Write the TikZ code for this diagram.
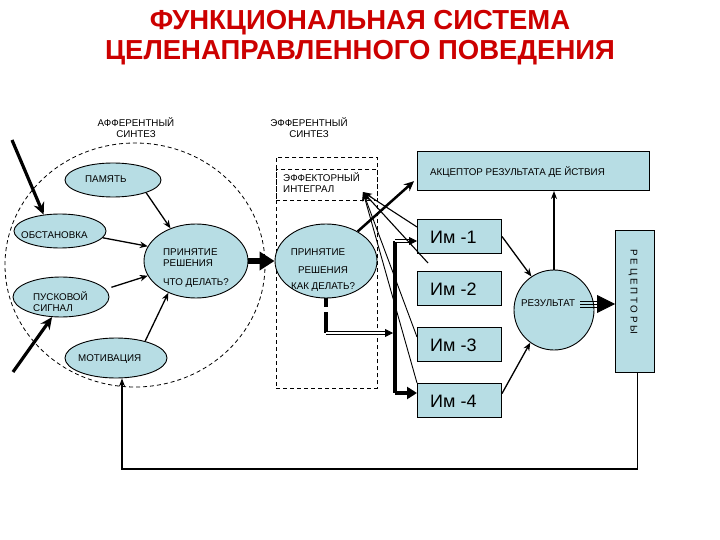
\documentclass[tikz,border=0pt]{standalone}
\usepackage{fontspec}
\setmainfont{Liberation Sans}
\usetikzlibrary{shapes.geometric,arrows.meta}
\definecolor{fillb}{RGB}{183,221,228}
\definecolor{titlered}{RGB}{204,0,0}
\begin{document}
\begin{tikzpicture}[x=1pt,y=-1pt,
  lbl/.style={font=\fontsize{9.8pt}{11pt}\selectfont, inner sep=0pt, anchor=west},
  clbl/.style={font=\fontsize{9.8pt}{11pt}\selectfont, inner sep=0pt},
  imlbl/.style={font=\fontsize{18pt}{20pt}\selectfont, inner sep=0pt, anchor=west},
  ttl/.style={font=\fontsize{27.5pt}{29pt}\selectfont\bfseries, text=titlered, inner sep=0pt},
  ell/.style={ellipse, draw, fill=fillb, line width=0.9pt, inner sep=0pt},
  box/.style={rectangle, draw, fill=fillb, line width=1pt, inner sep=0pt, anchor=north west},
  dsh/.style={line width=0.8pt, dash pattern=on 4pt off 3pt},
  thinarrow/.style={line width=1.3pt, -{Stealth[length=8pt,width=6.5pt]}},
  inarrow/.style={line width=3.2pt, -{Stealth[length=12pt,width=11pt]}},
  dbl/.style={double, double distance=1.5pt, line width=0.8pt}]
\useasboundingbox (0,0) rectangle (720,540);

% title
\node[ttl] (t1) at (360,23) {ФУНКЦИОНАЛЬНАЯ СИСТЕМА};
\node[ttl] (t2) at (360,53) {ЦЕЛЕНАПРАВЛЕННОГО ПОВЕДЕНИЯ};

% section headings
\node[clbl] (aff1) at (136,122) {АФФЕРЕНТНЫЙ};
\node[clbl] (aff2) at (136,134) {СИНТЕЗ};
\node[clbl] (eff1) at (309,122) {ЭФФЕРЕНТНЫЙ};
\node[clbl] (eff2) at (309,134) {СИНТЕЗ};

% afferent synthesis
\node[ellipse, draw, dsh, minimum width=260pt, minimum height=244pt, inner sep=0pt] (aff) at (135,265) {};
\node[ell, minimum width=96pt, minimum height=34pt] (mem) at (113,180) {};
\node[ell, minimum width=92pt, minimum height=34pt] (obs) at (60,231) {};
\node[ell, minimum width=104pt, minimum height=74pt] (dec1) at (196,261) {};
\node[ell, minimum width=96pt, minimum height=40pt] (trig) at (61,297) {};
\node[ell, minimum width=102pt, minimum height=40pt] (mot) at (116,358) {};

\node[lbl] (memt) at (85,179) {ПАМЯТЬ};
\node[lbl] (obst) at (21,235) {ОБСТАНОВКА};
\node[lbl] (d1a) at (163,252) {ПРИНЯТИЕ};
\node[lbl] (d1b) at (163,263) {РЕШЕНИЯ};
\node[lbl] (d1c) at (163,283) {ЧТО ДЕЛАТЬ?};
\node[lbl] (trga) at (33,296) {ПУСКОВОЙ};
\node[lbl] (trgb) at (33,308) {СИГНАЛ};
\node[lbl] (mott) at (78,359) {МОТИВАЦИЯ};

% efferent synthesis
\node[draw, dsh, anchor=north west, minimum width=101pt, minimum height=231pt, inner sep=0pt] (effr) at (276,157) {};
\node[draw, dsh, anchor=north west, minimum width=101pt, minimum height=31pt, inner sep=0pt] (effint) at (276,169) {};
\node[lbl] (eia) at (283,177) {ЭФФЕКТОРНЫЙ};
\node[lbl] (eib) at (283,189) {ИНТЕГРАЛ};
\node[ell, minimum width=102pt, minimum height=74pt] (dec2) at (326,261) {};
\node[clbl] (d2a) at (318,252) {ПРИНЯТИЕ};
\node[clbl] (d2b) at (323,270) {РЕШЕНИЯ};
\node[clbl] (d2c) at (323,287) {КАК ДЕЛАТЬ?};

% right part
\node[box, minimum width=232pt, minimum height=39pt] (acc) at (417,151) {};
\node[lbl] (acct) at (430,172) {АКЦЕПТОР РЕЗУЛЬТАТА ДЕ ЙСТВИЯ};
\node[box, minimum width=84pt, minimum height=34pt] (im1) at (417,219) {};
\node[box, minimum width=84pt, minimum height=34pt] (im2) at (417,271) {};
\node[box, minimum width=84pt, minimum height=34pt] (im3) at (417,327) {};
\node[box, minimum width=84pt, minimum height=34pt] (im4) at (417,383) {};
\node[imlbl] (im1t) at (430,237) {Им -1};
\node[imlbl] (im2t) at (430,289) {Им -2};
\node[imlbl] (im3t) at (430,345) {Им -3};
\node[imlbl] (im4t) at (430,401) {Им -4};
\node[circle, draw, fill=fillb, line width=0.9pt, minimum size=80pt, inner sep=0pt] (res) at (554,310) {};
\node[lbl] (rest) at (521,303) {РЕЗУЛЬТАТ};
\node[box, minimum width=39pt, minimum height=142pt] (rec) at (615,230) {};
\node[clbl, rotate=-90] (rect) at (633,292) {Р Е Ц Е П Т О Р Ы};

% inputs
\coordinate (in1) at (12,140);
\coordinate (in2) at (13,372);
\draw[inarrow] (in1) -- (obs.135);
\draw[inarrow] (in2) -- (trig.246);

% afferent arrows
\draw[thinarrow] (mem.-21) -- (dec1.128);
\draw[thinarrow] (obs.-9) -- (dec1.163);
\draw[thinarrow, shorten <=6pt] (trig.10) -- (dec1.197);
\draw[thinarrow] (mot.30) -- (dec1.229);

% decision to decision
\draw[line width=6pt, -{Triangle[length=15pt,width=18pt]}] (dec1.east) -- (dec2.west);

% effector connections
\coordinate (dk) at (326,333);
\coordinate (bart) at (395,241);
\coordinate (barb) at (395,393);
\draw[line width=3.5pt, dash pattern=on 9pt off 5pt on 30pt off 5pt] (dec2.south) -- (dk);
\draw[dbl, -{Triangle[length=8pt,width=8pt]}, shorten >=2pt] (dk) -- (dk -| bart);
\draw[line width=4pt] (bart) -- (barb);
\draw[dbl, -{Triangle[length=8pt,width=8pt]}] (bart) -- (bart -| im1.west);
\draw[line width=4pt, -{Triangle[length=10pt,width=12pt]}] (barb) -- (barb -| im4.west);

% collaterals to effector integral
\coordinate (ei) at (363,192);
\coordinate (c2) at (428,263);
\draw[line width=1.1pt, -{Stealth[length=9pt,width=7pt]}] ([yshift=-8pt]im1.north west) -- (ei);
\draw[line width=1.1pt, -{Stealth[length=9pt,width=7pt]}] (c2) -- (ei);
\draw[line width=0.9pt, -{Stealth[length=9pt,width=7pt]}] ([yshift=-10pt]im3.north west) -- (ei);
\draw[line width=0.9pt, -{Stealth[length=9pt,width=7pt]}] (im4.north west) -- (ei);

% decision to acceptor
\draw[line width=2.5pt, -{Stealth[length=10pt,width=9pt]}, shorten >=4pt] (dec2.43) -- ([yshift=-7.5pt]acc.west);

% result arrows
\draw[thinarrow] (im1.east) -- (res.124);
\draw[thinarrow] ([yshift=7pt]im4.east) -- (res.234);
\draw[line width=1.2pt, -{Stealth[length=8pt,width=6pt]}] (res.north) -- (res.north |- acc.south);
\coordinate (r0) at (580,304);
\draw[line width=0.9pt] ([yshift=3pt]r0) -- ++(20,0);
\draw[line width=0.9pt] ([yshift=-3pt]r0) -- ++(20,0);
\draw[line width=0.9pt, -{Triangle[length=18pt,width=18pt]}] (r0) -- (r0 -| rec.west);

% feedback
\draw[line width=1.2pt, -{Stealth[length=8pt,width=6pt]}] ([xshift=2.5pt]rec.south) -- ++(0,96) -| ([xshift=6pt]mot.south);
\end{tikzpicture}
\end{document}
